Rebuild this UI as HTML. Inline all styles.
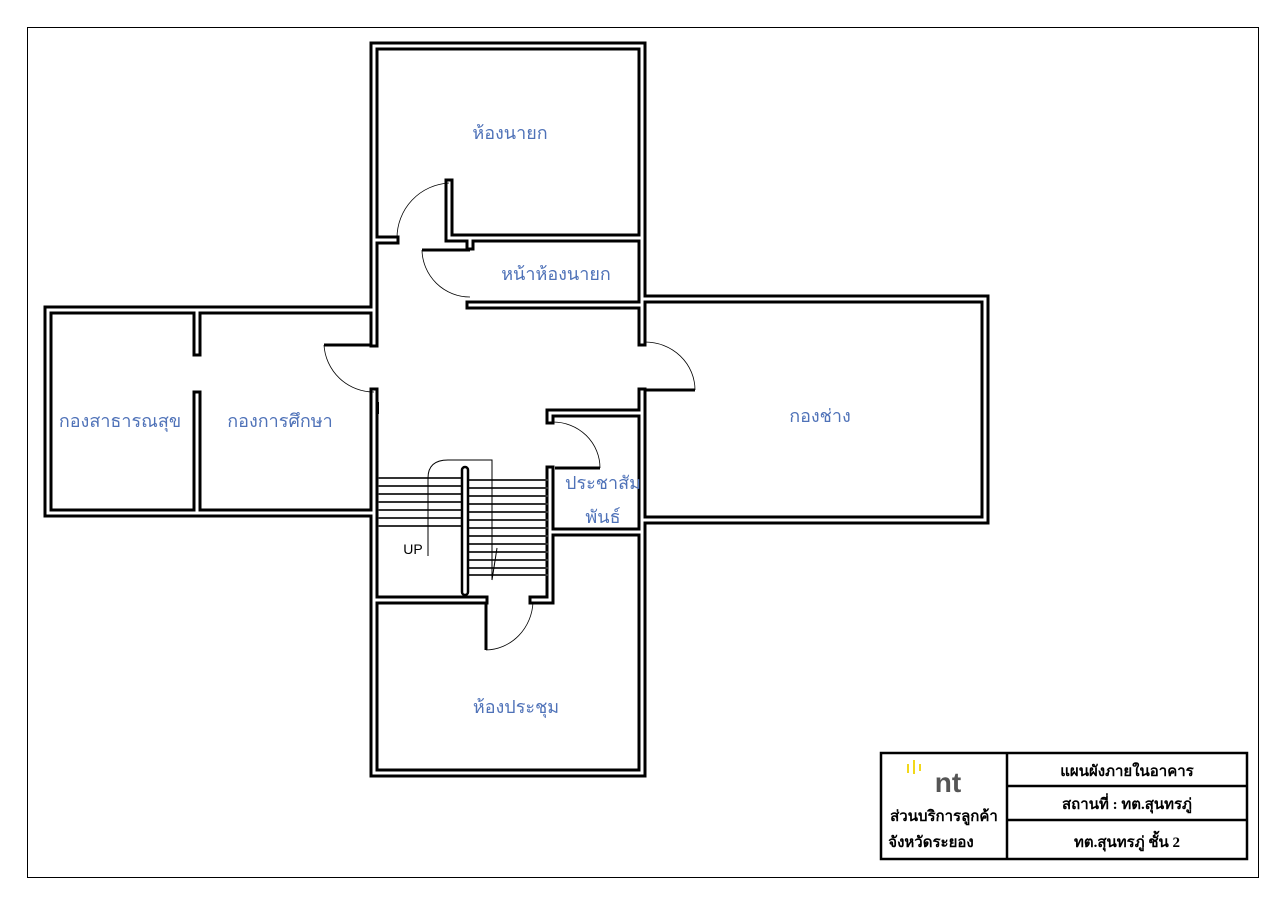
<!DOCTYPE html>
<html><head><meta charset="utf-8"><style>
body{margin:0;background:#fff;}
svg{display:block}
.lb{font-family:"Liberation Sans","Noto Sans CJK SC",sans-serif;font-size:18px;fill:#4f72b8;text-anchor:middle}
.tb{font-family:"Liberation Serif","Noto Serif CJK SC",serif;font-size:15px;font-weight:bold;fill:#000;text-anchor:middle}
</style></head><body>
<svg width="1280" height="904" viewBox="0 0 1280 904" xmlns="http://www.w3.org/2000/svg">
<rect x="27.5" y="27.5" width="1231" height="850" fill="none" stroke="#000" stroke-width="1"/>
<g id="walls" fill="none" stroke-linecap="square">
<g stroke="#000" stroke-width="9">
<path d="M374,240 V46 H642 V342"/>
<path d="M374,240 H395 M449,183 V238 H642 M470,238 V246 M470,305 H642"/>
<path d="M374,240 V343 M374,392 V600"/>
<path d="M374,310 H48 V513 H374"/>
<path d="M197,310 V352 M197,395 V513"/>
<path d="M645,299 H985 V520 H645"/>
<path d="M642,392 V773 H374 V600 H484 M533,600 H550 V470 M550,420 V413 H642 M552,532 H642"/>
</g>
<g stroke="#fff" stroke-width="3">
<path d="M374,240 V46 H642 V342"/>
<path d="M374,240 H395 M449,183 V238 H642 M470,238 V246 M470,305 H642"/>
<path d="M374,240 V343 M374,392 V600"/>
<path d="M374,310 H48 V513 H374"/>
<path d="M197,310 V352 M197,395 V513"/>
<path d="M645,299 H985 V520 H645"/>
<path d="M642,392 V773 H374 V600 H484 M533,600 H550 V470 M550,420 V413 H642 M552,532 H642"/>
</g>
</g>
<g stroke="#000" fill="none">
<path d="M449,183 A55,55 0 0 0 397,238" stroke-width="0.8"/>
<path d="M422,250 H470" stroke-width="3"/>
<path d="M422,250 A48,48 0 0 0 470,297" stroke-width="0.8"/>
<path d="M324,345 H372" stroke-width="3"/>
<path d="M324,345 A50,50 0 0 0 374,392" stroke-width="0.8"/>
<path d="M645,390 H695" stroke-width="3"/>
<path d="M645,342 A50,48 0 0 1 695,390" stroke-width="0.8"/>
<path d="M555,468 H600" stroke-width="3"/>
<path d="M553,422 A47,46 0 0 1 600,468" stroke-width="0.8"/>
<path d="M486,602 V650" stroke-width="3"/>
<path d="M486,650 A48,50 0 0 0 533,602" stroke-width="0.8"/>
<path d="M378,402 V414" stroke-width="2"/>
</g>
<g stroke="#333" stroke-width="2">
<path d="M378,478 H465 M378,486 H465 M378,494 H465 M378,502 H465 M378,510 H465 M378,518 H465 M378,526 H465"/>
<path d="M468,480 H548 M468,488 H548 M468,496 H548 M468,504 H548 M468,512 H548 M468,520 H548 M468,528 H548 M468,536 H548 M468,544 H548 M468,552 H548 M468,560 H548 M468,568 H548 M468,575 H548"/>
</g>
<rect x="462" y="467" width="6" height="128" rx="3" fill="#fff" stroke="#000" stroke-width="2.5"/>
<path d="M428,556 V478 Q428,460 448,460 H492 V580 M497,548 L492,580" fill="none" stroke="#000" stroke-width="1"/>
<text x="413" y="554" font-family="Liberation Sans,sans-serif" font-size="14" text-anchor="middle">UP</text>
<text class="lb" x="510" y="139">ห้องนายก</text>
<text class="lb" x="556" y="280">หน้าห้องนายก</text>
<text class="lb" x="120" y="427">กองสาธารณสุข</text>
<text class="lb" x="280" y="427">กองการศึกษา</text>
<text class="lb" x="820" y="422">กองช่าง</text>
<text class="lb" x="603" y="489">ประชาสัม</text>
<text class="lb" x="603" y="523">พันธ์</text>
<text class="lb" x="516" y="713">ห้องประชุม</text>
<g stroke="#000" stroke-width="2.5" fill="none">
<rect x="881" y="753" width="366" height="106"/>
<path d="M1007,753 V859 M1007,786 H1247 M1007,820 H1247"/>
</g>
<g fill="#f2d81a"><rect x="907" y="764" width="2" height="9"/><rect x="913" y="760" width="2" height="14"/><rect x="919" y="764" width="2" height="7"/></g>
<text x="948" y="792" font-family="Liberation Sans,sans-serif" font-size="28" font-weight="bold" fill="#555" text-anchor="middle">nt</text>
<text class="tb" x="944" y="821">ส่วนบริการลูกค้า</text>
<text class="tb" x="931" y="847">จังหวัดระยอง</text>
<text class="tb" x="1127" y="776">แผนผังภายในอาคาร</text>
<text class="tb" x="1127" y="809">สถานที่ :  ทต.สุนทรภู่</text>
<text class="tb" x="1127" y="847">ทต.สุนทรภู่ ชั้น 2</text>
</svg>
</body></html>
